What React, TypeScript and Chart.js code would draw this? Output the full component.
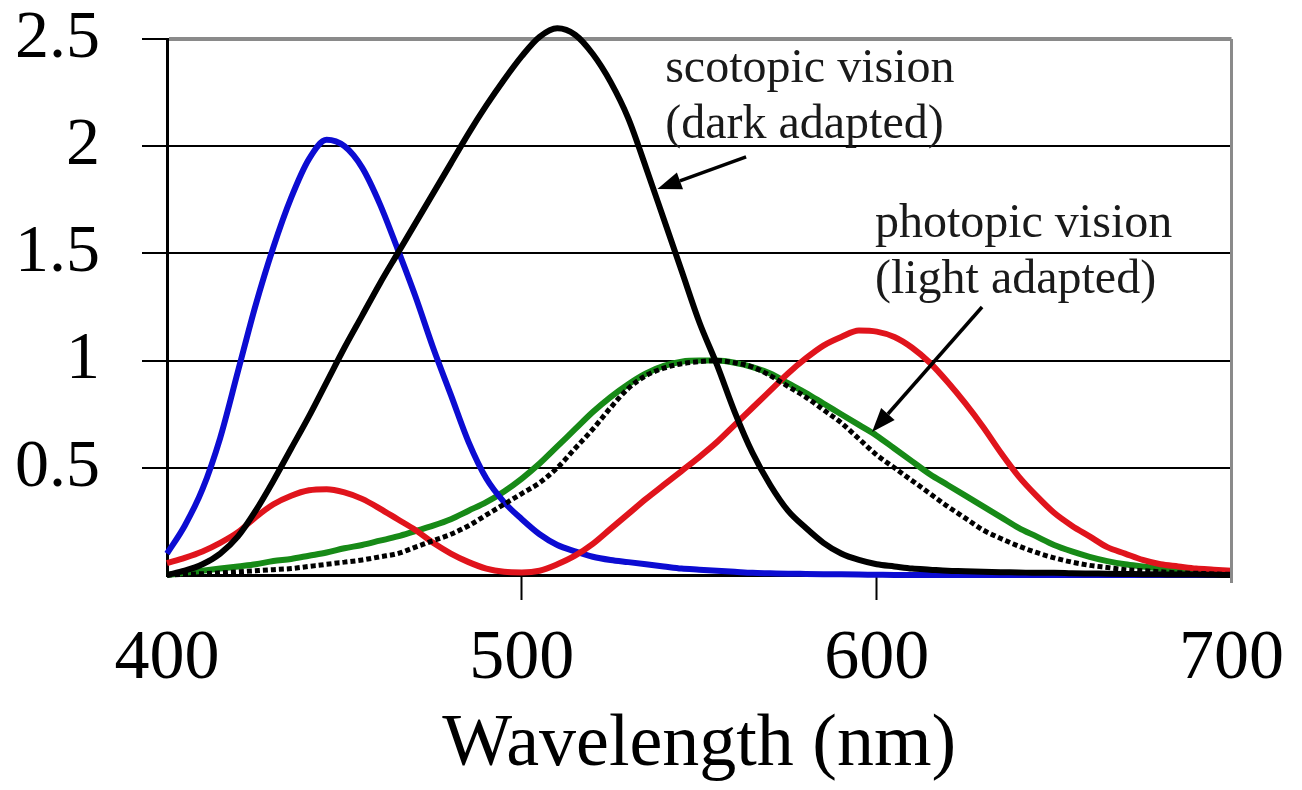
import { useEffect, useRef } from 'react';
import { Chart, registerables } from 'chart.js';

Chart.register(...registerables);

// Wavelength grid (nm)
const wavelengths = [
  400, 405, 410, 415, 420, 425, 430, 435, 440, 445, 450, 455, 460, 465, 470, 475, 480, 485, 490, 495,
  500, 505, 510, 515, 520, 525, 530, 535, 540, 545, 550, 555, 560, 565, 570, 575, 580, 585, 590, 595,
  600, 605, 610, 615, 620, 625, 630, 635, 640, 645, 650, 655, 660, 665, 670, 675, 680, 685, 690, 695, 700,
];

// S cone (blue)
const blueCone = [
  0.10, 0.23, 0.40, 0.64, 0.95, 1.26, 1.53, 1.76, 1.94, 2.03, 2.00, 1.90, 1.73, 1.52, 1.30, 1.06, 0.84, 0.62, 0.45, 0.34,
  0.26, 0.19, 0.14, 0.11, 0.085, 0.07, 0.06, 0.05, 0.04, 0.03, 0.025, 0.02, 0.015, 0.01, 0.008, 0.006, 0.005, 0.004, 0.003, 0.002,
  0.001, 0, 0, 0, 0, 0, 0, 0, 0, 0, 0, 0, 0, 0, 0, 0, 0, 0, 0, 0, 0,
];

// Scotopic (rods, black solid)
const scotopic = [
  0.00, 0.02, 0.05, 0.10, 0.18, 0.30, 0.44, 0.59, 0.74, 0.90, 1.06, 1.21, 1.36, 1.50, 1.64, 1.78, 1.92, 2.06, 2.19, 2.31,
  2.42, 2.51, 2.55, 2.52, 2.43, 2.30, 2.13, 1.90, 1.66, 1.42, 1.18, 0.98, 0.76, 0.57, 0.42, 0.30, 0.22, 0.15, 0.10, 0.07,
  0.05, 0.04, 0.03, 0.025, 0.02, 0.018, 0.015, 0.013, 0.012, 0.01, 0.01, 0.008, 0.007, 0.006, 0.005, 0.004, 0.003, 0.002, 0.002, 0.001, 0.0,
];

// L cone (red)
const redCone = [
  0.055, 0.08, 0.11, 0.15, 0.20, 0.27, 0.33, 0.37, 0.395, 0.40, 0.385, 0.355, 0.31, 0.26, 0.21, 0.15, 0.10, 0.06, 0.03, 0.015,
  0.012, 0.02, 0.05, 0.09, 0.145, 0.215, 0.285, 0.355, 0.42, 0.485, 0.55, 0.62, 0.70, 0.78, 0.86, 0.94, 1.01, 1.07, 1.11, 1.14,
  1.135, 1.11, 1.06, 0.99, 0.90, 0.80, 0.69, 0.57, 0.46, 0.37, 0.29, 0.23, 0.18, 0.13, 0.10, 0.07, 0.05, 0.04, 0.03, 0.025, 0.02,
];

// M cone (green)
const greenCone = [
  0.00, 0.01, 0.02, 0.03, 0.04, 0.05, 0.065, 0.075, 0.09, 0.105, 0.125, 0.14, 0.16, 0.18, 0.205, 0.23, 0.26, 0.30, 0.34, 0.39,
  0.45, 0.52, 0.60, 0.68, 0.76, 0.83, 0.89, 0.94, 0.975, 0.995, 1.0, 1.0, 0.99, 0.97, 0.94, 0.895, 0.85, 0.80, 0.75, 0.70,
  0.65, 0.59, 0.53, 0.47, 0.42, 0.37, 0.32, 0.27, 0.22, 0.18, 0.14, 0.11, 0.085, 0.065, 0.05, 0.04, 0.03, 0.02, 0.015, 0.012, 0.01,
];

// Photopic luminosity (black dotted)
const photopic = [
  0.0, 0.003, 0.006, 0.01, 0.015, 0.02, 0.025, 0.03, 0.04, 0.05, 0.06, 0.07, 0.085, 0.10, 0.13, 0.16, 0.19, 0.23, 0.28, 0.33,
  0.38, 0.43, 0.50, 0.59, 0.68, 0.78, 0.87, 0.93, 0.965, 0.985, 0.995, 1.0, 0.99, 0.97, 0.93, 0.88, 0.83, 0.77, 0.71, 0.635,
  0.56, 0.50, 0.44, 0.38, 0.32, 0.265, 0.21, 0.17, 0.135, 0.105, 0.08, 0.06, 0.045, 0.035, 0.025, 0.02, 0.015, 0.01, 0.008, 0.005, 0.003,
];

const xTicks = [400, 500, 600, 700];
const yTicks = [0, 0.5, 1, 1.5, 2, 2.5];

const scotopicLabel = ['scotopic vision', '(dark adapted)'];
const photopicLabel = ['photopic vision', '(light adapted)'];

const SERIF = '"Liberation Serif", "DejaVu Serif", serif';

const toPoints = (vals: number[]) => wavelengths.map((w, i) => ({ x: w, y: vals[i] }));

type Note = {
  lines: string[];
  x: number;
  ys: number[];
  from: [number, number];
  to: [number, number];
};

const notes: Note[] = [
  { lines: scotopicLabel, x: 540.4, ys: [2.3, 2.04], from: [563.2, 1.95], to: [538.2, 1.8] },
  { lines: photopicLabel, x: 599.5, ys: [1.576, 1.315], from: [629.7, 1.25], to: [598.7, 0.667] },
];

const framePlugin = {
  id: 'frameAndNotes',
  afterDatasetsDraw(chart: any) {
    const { ctx, chartArea, scales } = chart;
    const xs = scales.x;
    const ys = scales.y;
    ctx.save();
    // right border (gray)
    ctx.strokeStyle = '#8a8a8a';
    ctx.lineWidth = 3;
    ctx.beginPath();
    ctx.moveTo(chartArea.right, chartArea.top);
    ctx.lineTo(chartArea.right, chartArea.bottom + 8);
    ctx.stroke();

    // annotations
    ctx.font = `48px ${SERIF}`;
    ctx.textAlign = 'left';
    ctx.textBaseline = 'alphabetic';
    notes.forEach((n) => {
      ctx.fillStyle = '#1a1a1a';
      n.lines.forEach((t, i) => {
        ctx.fillText(t, xs.getPixelForValue(n.x), ys.getPixelForValue(n.ys[i]));
      });
      const x1 = xs.getPixelForValue(n.from[0]);
      const y1 = ys.getPixelForValue(n.from[1]);
      const x2 = xs.getPixelForValue(n.to[0]);
      const y2 = ys.getPixelForValue(n.to[1]);
      const ang = Math.atan2(y2 - y1, x2 - x1);
      const headLen = 24;
      const headW = 9;
      const bx = x2 - headLen * Math.cos(ang);
      const by = y2 - headLen * Math.sin(ang);
      ctx.strokeStyle = '#000';
      ctx.lineWidth = 3.5;
      ctx.beginPath();
      ctx.moveTo(x1, y1);
      ctx.lineTo(bx, by);
      ctx.stroke();
      ctx.fillStyle = '#000';
      ctx.beginPath();
      ctx.moveTo(x2, y2);
      ctx.lineTo(bx + headW * Math.sin(ang), by - headW * Math.cos(ang));
      ctx.lineTo(bx - headW * Math.sin(ang), by + headW * Math.cos(ang));
      ctx.closePath();
      ctx.fill();
    });
    ctx.restore();
  },
};

export default function App() {
  const canvasRef = useRef<HTMLCanvasElement | null>(null);

  useEffect(() => {
    document.body.style.margin = '0';
    document.body.style.overflow = 'hidden';
    const canvas = canvasRef.current;
    if (!canvas) return;

    const common = {
      pointRadius: 0,
      borderWidth: 6,
      fill: false,
      cubicInterpolationMode: 'monotone' as const,
      clip: { left: 3, top: 20, right: 3, bottom: 4 },
    };

    const chart = new Chart(canvas, {
      type: 'line',
      data: {
        datasets: [
          { ...common, label: 'scotopic', data: toPoints(scotopic), borderColor: '#000000', order: 0 },
          { ...common, label: 'photopic', data: toPoints(photopic), borderColor: '#000000', borderWidth: 5, borderDash: [5, 3], order: 1 },
          { ...common, label: 'L cone', data: toPoints(redCone), borderColor: '#e0141c', order: 2 },
          { ...common, label: 'S cone', data: toPoints(blueCone), borderColor: '#0c0cd2', order: 3 },
          { ...common, label: 'M cone', data: toPoints(greenCone), borderColor: '#178a17', order: 4 },
        ],
      },
      options: {
        animation: false,
        responsive: false,
        devicePixelRatio: 1,
        layout: { padding: { left: 0, right: 69, top: 0, bottom: 0 } },
        plugins: { legend: { display: false }, tooltip: { enabled: false } },
        scales: {
          x: {
            type: 'linear',
            min: 400,
            max: 700,
            afterBuildTicks: (scale: any) => {
              scale.ticks = xTicks.map((v) => ({ value: v }));
            },
            afterFit: (scale: any) => {
              scale.height = 215;
            },
            ticks: {
              color: '#000',
              font: { family: SERIF, size: 70 },
              padding: 18,
              maxRotation: 0,
              autoSkip: false,
              callback: (v: any) => String(v),
            },
            grid: {
              drawOnChartArea: false,
              drawTicks: true,
              tickLength: 25,
              tickWidth: 2,
              tickColor: (c: any) => (c.tick && (c.tick.value === 500 || c.tick.value === 600) ? '#000' : 'rgba(0,0,0,0)'),
            },
            border: { display: true, color: '#000', width: 3 },
            title: {
              display: true,
              text: 'Wavelength (nm)',
              color: '#000',
              font: { family: SERIF, size: 74 },
              padding: { top: 0, bottom: 0 },
            },
          },
          y: {
            type: 'linear',
            min: 0,
            max: 2.5,
            afterBuildTicks: (scale: any) => {
              scale.ticks = yTicks.map((v) => ({ value: v }));
            },
            afterFit: (scale: any) => {
              scale.width = 167;
              scale.paddingTop = 39;
              scale.paddingBottom = 0;
            },
            ticks: {
              color: '#000',
              font: { family: SERIF, size: 68, lineHeight: 1.15 },
              padding: 42,
              callback: (v: any) => (v === 0 ? '' : String(v)),
            },
            grid: {
              drawTicks: true,
              tickLength: 25,
              lineWidth: (c: any) => (c.tick && c.tick.value === 2.5 ? 4 : 2),
              color: (c: any) => {
                if (!c.tick) return '#000';
                if (c.tick.value === 0) return 'rgba(0,0,0,0)';
                if (c.tick.value === 2.5) return '#8a8a8a';
                return '#000';
              },
              tickColor: (c: any) => (c.tick && c.tick.value === 0 ? 'rgba(0,0,0,0)' : '#000'),
              tickWidth: 2,
            },
            border: { display: true, color: '#000', width: 3 },
          },
        },
      },
      plugins: [framePlugin],
    });

    return () => {
      chart.destroy();
    };
  }, []);

  return (
    <div style={{ width: 1302, height: 790, background: '#fff' }}>
      <canvas ref={canvasRef} width={1302} height={790} style={{ display: 'block' }} />
    </div>
  );
}
